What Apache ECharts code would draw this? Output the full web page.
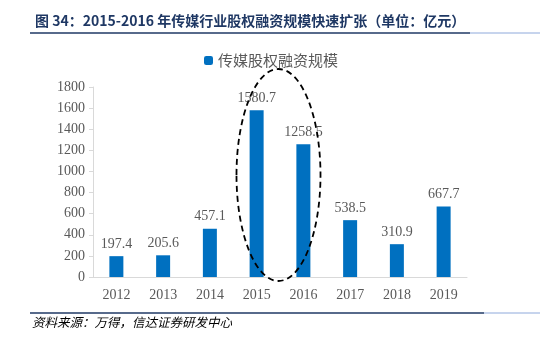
<!DOCTYPE html>
<html><head><meta charset="utf-8">
<script src="https://cdn.jsdelivr.net/npm/echarts@6/dist/echarts.min.js"></script>
<style>html,body{margin:0;padding:0;background:#fff}#c{width:540px;height:342px}</style>
</head><body><div id="c"></div>
<script>
var categories = ['2012','2013','2014','2015','2016','2017','2018','2019'];
var financing = [197.4, 205.6, 457.1, 1580.7, 1258.5, 538.5, 310.9, 667.7];
var seriesName = '传媒股权融资规模';
var titleText = '图 34：2015-2016 年传媒行业股权融资规模快速扩张（单位：亿元）';
var sourceText = '资料来源：万得，信达证券研发中心';

var chart = echarts.init(document.getElementById('c'));
var serif = '"Liberation Serif","Times New Roman",serif';
var cjk = '"Noto Sans CJK SC",sans-serif';
var baseGraphic = [
  {type: 'line', id: 'tl1', shape: {x1: 30, y1: 33, x2: 470, y2: 33}, style: {stroke: '#1f3864', lineWidth: 1.5}},
  {type: 'line', id: 'tl2', shape: {x1: 470, y1: 33, x2: 540, y2: 33}, style: {stroke: '#8ea9db', lineWidth: 1}},
  {type: 'line', id: 'bl1', shape: {x1: 30, y1: 313, x2: 484, y2: 313}, style: {stroke: '#1f3864', lineWidth: 1.5}},
  {type: 'line', id: 'bl2', shape: {x1: 484, y1: 313, x2: 540, y2: 313}, style: {stroke: '#8ea9db', lineWidth: 1}},
  {type: 'text', id: 'src', left: 32, top: 316, style: {text: sourceText, font: 'italic 12.5px "Noto Sans CJK SC",sans-serif', fill: '#000'}}
];
chart.setOption({
  animation: false,
  title: {text: titleText, left: 30, top: 9, textStyle: {fontFamily: cjk, fontSize: 14, fontWeight: 'bold', color: '#1f3864'}},
  legend: {data: [seriesName], top: 48, left: 199, itemWidth: 9, itemHeight: 9, itemGap: 5,
    textStyle: {fontFamily: cjk, fontSize: 15, color: '#595959'}},
  grid: {left: 93, right: 73, top: 87, bottom: 65},
  xAxis: {type: 'category', data: categories,
    axisLine: {lineStyle: {color: '#d9d9d9', width: 1}}, axisTick: {show: false},
    axisLabel: {fontFamily: serif, fontSize: 14, color: '#595959', margin: 11}},
  yAxis: {type: 'value', min: 0, max: 1800, interval: 200,
    axisLine: {show: true, lineStyle: {color: '#d9d9d9'}},
    axisTick: {show: true, inside: false, length: 4, lineStyle: {color: '#d9d9d9'}},
    splitLine: {show: false},
    axisLabel: {fontFamily: serif, fontSize: 14, color: '#595959', margin: 8,
      formatter: function(v){return String(v);}}},
  series: [{name: seriesName, type: 'bar', data: financing, barWidth: 14,
    itemStyle: {color: '#0070c0'},
    label: {show: true, position: 'top', distance: 5, fontFamily: serif, fontSize: 14, color: '#595959',
      formatter: function(p){return p.value.toFixed(1);}}}],
  graphic: baseGraphic
});
// dashed ellipse around 2015-2016, positioned via axis conversion
var p15 = chart.convertToPixel({xAxisIndex: 0, yAxisIndex: 0}, ['2015', 0]);
var p16 = chart.convertToPixel({xAxisIndex: 0, yAxisIndex: 0}, ['2016', 0]);
var pTop = chart.convertToPixel({yAxisIndex: 0}, 1800);
var cx = (p15[0] + p16[0]) / 2 - 1.5;
var topY = pTop - 18, botY = p15[1] + 4;
chart.setOption({graphic: baseGraphic.concat([{type: 'ellipse', id: 'ell', shape: {cx: cx, cy: (topY + botY) / 2, rx: 42, ry: (botY - topY) / 2},
  style: {fill: 'none', stroke: '#000', lineWidth: 1.8, lineDash: [6, 4]}, z: 10}])});
</script></body></html>
